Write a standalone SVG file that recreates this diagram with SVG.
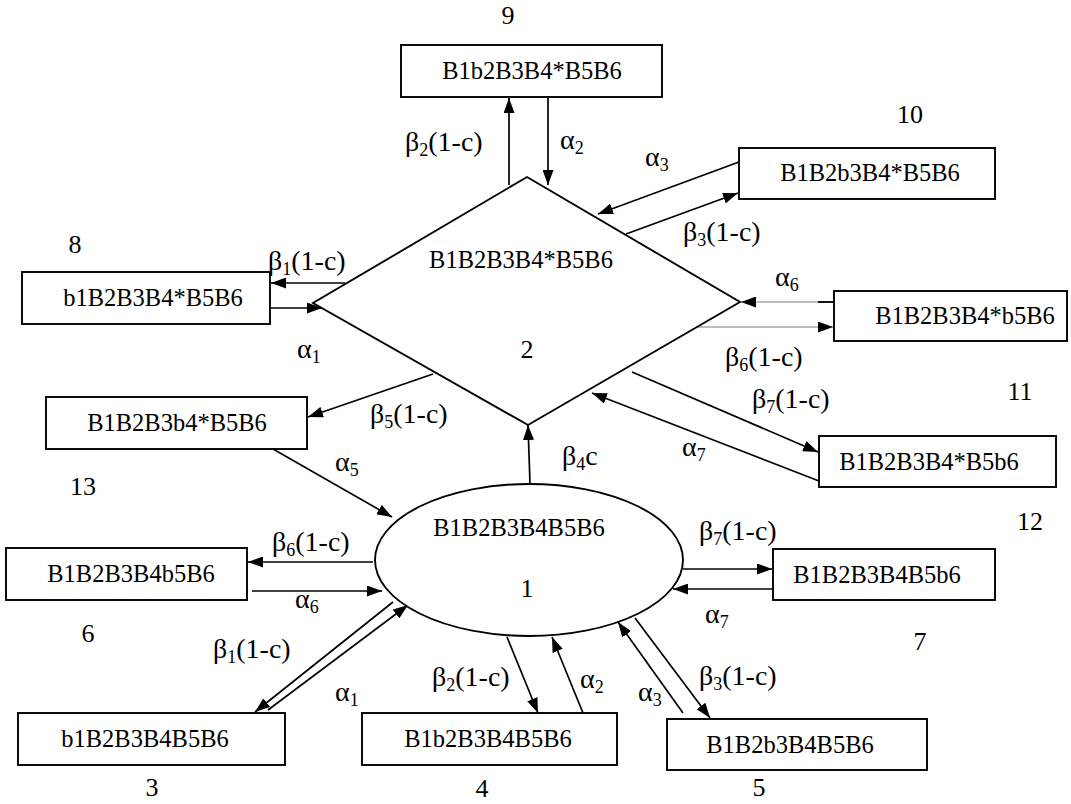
<svg xmlns="http://www.w3.org/2000/svg" width="1071" height="804" viewBox="0 0 1071 804">
<style>
  .shape{fill:#fff;stroke:#000;stroke-width:1.9}
  text{fill:#000;font-family:"Liberation Serif","Times New Roman",serif}
  .bt{font-size:24.5px;text-anchor:middle}
  .num{font-size:26px;text-anchor:middle}
  .lb{font-size:28px}
  .sub{font-size:18px}
  .c{stroke:#000;stroke-width:1.7;fill:none;marker-end:url(#ah)}
  .g{stroke:#a8a8a8;stroke-width:1.4;fill:none;marker-end:url(#ah)}
</style>
<defs>
  <marker id="ah" markerUnits="userSpaceOnUse" markerWidth="15" markerHeight="11" refX="15" refY="5.5" orient="auto">
    <path d="M0,0 L15,5.5 L0,11 z" fill="#000"/>
  </marker>
</defs>
<rect width="1071" height="804" fill="#fff"/>

<g id="connectors">
  <line class="c" x1="509" y1="185" x2="509" y2="98"/>
  <line class="c" x1="548" y1="97" x2="548" y2="185"/>
  <line class="c" x1="739" y1="162" x2="598" y2="214"/>
  <line class="c" x1="626" y1="234" x2="738" y2="193"/>
  <line class="c" x1="345" y1="283" x2="271" y2="283"/>
  <line class="c" x1="270" y1="308" x2="322" y2="308"/>
  <line class="g" x1="834" y1="302" x2="741" y2="302"/>
  <line x1="818" y1="302" x2="834" y2="302" stroke="#000" stroke-width="1.8"/>
  <line class="g" x1="698" y1="327" x2="833" y2="327"/>
  <line class="c" x1="632" y1="372" x2="818" y2="452"/>
  <line class="c" x1="819" y1="481" x2="592" y2="393"/>
  <line class="c" x1="433" y1="374" x2="308" y2="417"/>
  <line class="c" x1="273" y1="449" x2="392" y2="517"/>
  <line class="c" x1="530" y1="484" x2="528" y2="425"/>
  <line class="c" x1="373" y1="562" x2="248" y2="562"/>
  <line class="c" x1="252" y1="591" x2="382" y2="591"/>
  <line class="c" x1="393" y1="602" x2="255" y2="712"/>
  <line class="c" x1="268" y1="710" x2="408" y2="605"/>
  <line class="c" x1="507" y1="637" x2="538" y2="713"/>
  <line class="c" x1="583" y1="713" x2="552" y2="637"/>
  <line class="c" x1="683" y1="713" x2="618" y2="622"/>
  <line class="c" x1="635" y1="618" x2="710" y2="718"/>
  <line class="c" x1="683" y1="569" x2="772" y2="569"/>
  <line class="c" x1="773" y1="589" x2="673" y2="589"/>
</g>

<g id="node1">
  <ellipse class="shape" cx="529" cy="560" rx="154" ry="76"/>
  <text class="bt" x="519" y="536">B1B2B3B4B5B6</text>
  <text class="num" x="527" y="597">1</text>
</g>
<g id="node2">
  <polygon class="shape" points="527,177 740,302 528,425 313,303"/>
  <text class="bt" x="521" y="268">B1B2B3B4*B5B6</text>
  <text class="num" x="527" y="358">2</text>
</g>
<g id="node3">
  <rect class="shape" x="18" y="713" width="267" height="52"/>
  <text class="bt" x="145" y="747">b1B2B3B4B5B6</text>
  <text class="num" x="152" y="796">3</text>
</g>
<g id="node4">
  <rect class="shape" x="362" y="713" width="255" height="52"/>
  <text class="bt" x="488" y="747">B1b2B3B4B5B6</text>
  <text class="num" x="482" y="797">4</text>
</g>
<g id="node5">
  <rect class="shape" x="667" y="719" width="260" height="51"/>
  <text class="bt" x="790" y="753">B1B2b3B4B5B6</text>
  <text class="num" x="759" y="796">5</text>
</g>
<g id="node6">
  <rect class="shape" x="6" y="548" width="241" height="52"/>
  <text class="bt" x="131" y="582">B1B2B3B4b5B6</text>
  <text class="num" x="88" y="642">6</text>
</g>
<g id="node7">
  <rect class="shape" x="773" y="549" width="222" height="51"/>
  <text class="bt" x="877" y="583">B1B2B3B4B5b6</text>
  <text class="num" x="920" y="650">7</text>
</g>
<g id="node8">
  <rect class="shape" x="22" y="272" width="248" height="52"/>
  <text class="bt" x="153" y="306">b1B2B3B4*B5B6</text>
  <text class="num" x="75" y="253">8</text>
</g>
<g id="node9">
  <rect class="shape" x="401" y="45" width="261" height="52"/>
  <text class="bt" x="532" y="79">B1b2B3B4*B5B6</text>
  <text class="num" x="508" y="24">9</text>
</g>
<g id="node10">
  <rect class="shape" x="739" y="148" width="256" height="51"/>
  <text class="bt" x="870" y="181">B1B2b3B4*B5B6</text>
  <text class="num" x="910" y="123">10</text>
</g>
<g id="node11">
  <rect class="shape" x="834" y="291" width="233" height="50"/>
  <text class="bt" x="965" y="324">B1B2B3B4*b5B6</text>
  <text class="num" x="1020" y="400">11</text>
</g>
<g id="node12">
  <rect class="shape" x="819" y="436" width="237" height="51"/>
  <text class="bt" x="929" y="470">B1B2B3B4*B5b6</text>
  <text class="num" x="1030" y="530">12</text>
</g>
<g id="node13">
  <rect class="shape" x="46" y="397" width="261" height="52"/>
  <text class="bt" x="177" y="431">B1B2B3b4*B5B6</text>
  <text class="num" x="83" y="495">13</text>
</g>

<g id="labels">
  <text class="lb" x="405" y="151">β<tspan class="sub" dy="5">2</tspan><tspan dy="-5">(1-c)</tspan></text>
  <text class="lb" x="560" y="149">α<tspan class="sub" dy="5">2</tspan></text>
  <text class="lb" x="645" y="166">α<tspan class="sub" dy="5">3</tspan></text>
  <text class="lb" x="683" y="241">β<tspan class="sub" dy="5">3</tspan><tspan dy="-5">(1-c)</tspan></text>
  <text class="lb" x="268" y="270">β<tspan class="sub" dy="5">1</tspan><tspan dy="-5">(1-c)</tspan></text>
  <text class="lb" x="297" y="358">α<tspan class="sub" dy="5">1</tspan></text>
  <text class="lb" x="775" y="286">α<tspan class="sub" dy="5">6</tspan></text>
  <text class="lb" x="725" y="366">β<tspan class="sub" dy="5">6</tspan><tspan dy="-5">(1-c)</tspan></text>
  <text class="lb" x="752" y="408">β<tspan class="sub" dy="5">7</tspan><tspan dy="-5">(1-c)</tspan></text>
  <text class="lb" x="682" y="456">α<tspan class="sub" dy="5">7</tspan></text>
  <text class="lb" x="370" y="423">β<tspan class="sub" dy="5">5</tspan><tspan dy="-5">(1-c)</tspan></text>
  <text class="lb" x="335" y="471">α<tspan class="sub" dy="5">5</tspan></text>
  <text class="lb" x="562" y="465">β<tspan class="sub" dy="5">4</tspan><tspan dy="-5">c</tspan></text>
  <text class="lb" x="272" y="551">β<tspan class="sub" dy="5">6</tspan><tspan dy="-5">(1-c)</tspan></text>
  <text class="lb" x="295" y="608">α<tspan class="sub" dy="5">6</tspan></text>
  <text class="lb" x="213" y="658">β<tspan class="sub" dy="5">1</tspan><tspan dy="-5">(1-c)</tspan></text>
  <text class="lb" x="335" y="701">α<tspan class="sub" dy="5">1</tspan></text>
  <text class="lb" x="432" y="686">β<tspan class="sub" dy="5">2</tspan><tspan dy="-5">(1-c)</tspan></text>
  <text class="lb" x="580" y="688">α<tspan class="sub" dy="5">2</tspan></text>
  <text class="lb" x="638" y="701">α<tspan class="sub" dy="5">3</tspan></text>
  <text class="lb" x="699" y="685">β<tspan class="sub" dy="5">3</tspan><tspan dy="-5">(1-c)</tspan></text>
  <text class="lb" x="699" y="540">β<tspan class="sub" dy="5">7</tspan><tspan dy="-5">(1-c)</tspan></text>
  <text class="lb" x="705" y="623">α<tspan class="sub" dy="5">7</tspan></text>
</g>
</svg>
